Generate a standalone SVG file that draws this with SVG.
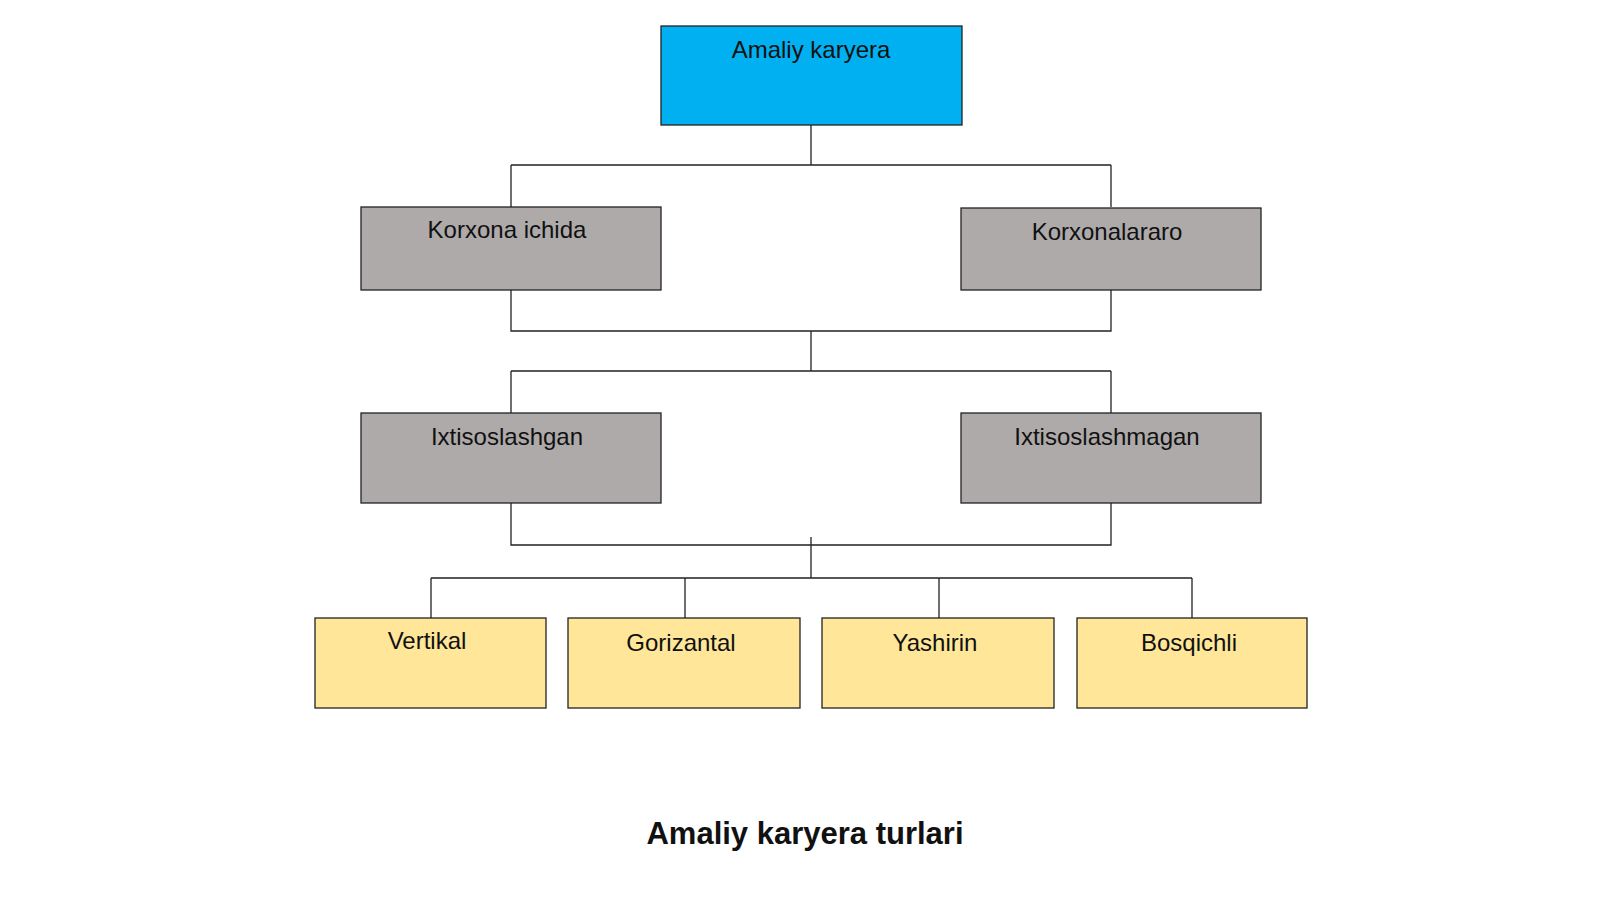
<svg xmlns="http://www.w3.org/2000/svg" width="1600" height="899" viewBox="0 0 1600 899">
<style>
.b{stroke:#222;stroke-width:1.3}
.t{font-family:"Liberation Sans",Arial,sans-serif;font-size:24px;fill:#111;text-anchor:middle}
.c{fill:none;stroke:#222;stroke-width:1.3}
</style>
<rect width="1600" height="899" fill="#fff"/>
<g id="connectors" class="c">
<path d="M811 125V165M511 165H1111M511 165V207M1111 165V207"/>
<path d="M511 290V331H1111V290M811 331V371M511 371H1111M511 371V413M1111 371V413"/>
<path d="M511 503V545H1111V503M811 537V578M431 578H1192M431 578V618M685 578V618M939 578V618M1192 578V618"/>
</g>
<g id="n1"><rect class="b" x="661" y="26" width="301" height="99" fill="#00b0f0"/><text class="t" x="811" y="58">Amaliy karyera</text></g>
<g id="n2"><rect class="b" x="361" y="207" width="300" height="83" fill="#aeaaaa"/><text class="t" x="507" y="238">Korxona ichida</text></g>
<g id="n3"><rect class="b" x="961" y="208" width="300" height="82" fill="#aeaaaa"/><text class="t" x="1107" y="240">Korxonalararo</text></g>
<g id="n4"><rect class="b" x="361" y="413" width="300" height="90" fill="#aeaaaa"/><text class="t" x="507" y="445">Ixtisoslashgan</text></g>
<g id="n5"><rect class="b" x="961" y="413" width="300" height="90" fill="#aeaaaa"/><text class="t" x="1107" y="445">Ixtisoslashmagan</text></g>
<g id="n6"><rect class="b" x="315" y="618" width="231" height="90" fill="#ffe699"/><text class="t" x="427" y="649">Vertikal</text></g>
<g id="n7"><rect class="b" x="568" y="618" width="232" height="90" fill="#ffe699"/><text class="t" x="681" y="651">Gorizantal</text></g>
<g id="n8"><rect class="b" x="822" y="618" width="232" height="90" fill="#ffe699"/><text class="t" x="935" y="651">Yashirin</text></g>
<g id="n9"><rect class="b" x="1077" y="618" width="230" height="90" fill="#ffe699"/><text class="t" x="1189" y="651">Bosqichli</text></g>
<text x="805" y="844" style="font-family:'Liberation Sans',Arial,sans-serif;font-size:31px;font-weight:bold;fill:#111;text-anchor:middle">Amaliy karyera turlari</text>
</svg>
